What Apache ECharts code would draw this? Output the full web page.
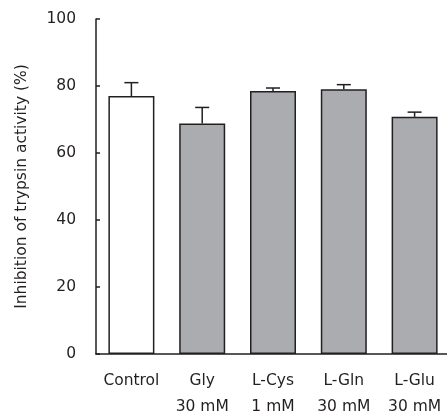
<!DOCTYPE html>
<html>
<head>
<meta charset="utf-8">
<script src="https://cdn.jsdelivr.net/npm/echarts@6/dist/echarts.min.js"></script>
<style>
  html, body { margin: 0; padding: 0; background: #fff; }
  #box { width: 447px; height: 415px; }
</style>
</head>
<body>
<div id="box"></div>
<script>
// values
var categories = ['Control', 'Gly', 'L-Cys', 'L-Gln', 'L-Glu'];
var doses = ['', '30 mM', '1 mM', '30 mM', '30 mM'];
var means = [77.0, 68.8, 78.5, 79.0, 70.8];
var errors = [4.0, 4.8, 0.9, 1.4, 1.4];
var yTicks = [0, 20, 40, 60, 80, 100];

var ink = '#231f20';
var font = 'DejaVu Sans';

function initChart() {
    var dom = document.getElementById('box');
    var myChart = echarts.init(dom, null, { renderer: 'canvas' });

    var barData = [];
    var errData = [];
    means.forEach(function (m, i) {
        barData.push({
            value: m,
            itemStyle: { color: i === 0 ? '#ffffff' : '#abacb0' }
        });
        errData.push([i, m, m + errors[i]]);
    });

    var option = {
        backgroundColor: '#fff',
        animation: false,
        grid: {
            left: 96,
            right: -3,
            top: 19,
            bottom: 61,
            containLabel: false,
            outerBoundsMode: 'none'
        },
        xAxis: {
            type: 'category',
            data: categories,
            axisLine: { lineStyle: { color: ink, width: 1.5 } },
            axisTick: { show: false },
            axisLabel: {
                color: ink,
                fontFamily: font,
                fontSize: 15.5,
                lineHeight: 26,
                margin: 14,
                interval: 0,
                formatter: function (val, idx) {
                    return doses[idx] ? val + '\n' + doses[idx] : val;
                }
            }
        },
        yAxis: {
            type: 'value',
            min: yTicks[0],
            max: yTicks[yTicks.length - 1],
            interval: 20,
            name: 'Inhibition of trypsin activity (%)',
            nameLocation: 'middle',
            nameGap: 66,
            nameTextStyle: {
                color: ink,
                fontFamily: font,
                fontSize: 15.5
            },
            axisLine: { show: true, lineStyle: { color: ink, width: 1.5 } },
            axisTick: { show: true, inside: true, length: 4, lineStyle: { color: ink, width: 1.5 } },
            splitLine: { show: false },
            axisLabel: {
                color: ink,
                fontFamily: font,
                fontSize: 15.5,
                margin: 20
            }
        },
        series: [
            {
                type: 'bar',
                data: barData,
                barWidth: 46,
                itemStyle: { borderColor: ink, borderWidth: 1.5 }
            },
            {
                type: 'custom',
                data: errData,
                z: 3,
                renderItem: function (params, api) {
                    var base = api.coord([api.value(0), api.value(1)]);
                    var top = api.coord([api.value(0), api.value(2)]);
                    var half = 7;
                    var style = { stroke: ink, lineWidth: 1.5 };
                    return {
                        type: 'group',
                        children: [
                            {
                                type: 'line',
                                shape: { x1: top[0], y1: base[1], x2: top[0], y2: top[1] },
                                style: style
                            },
                            {
                                type: 'line',
                                shape: { x1: top[0] - half, y1: top[1], x2: top[0] + half, y2: top[1] },
                                style: style
                            }
                        ]
                    };
                }
            }
        ]
    };

    myChart.setOption(option, true);
}

initChart();
</script>
</body>
</html>
